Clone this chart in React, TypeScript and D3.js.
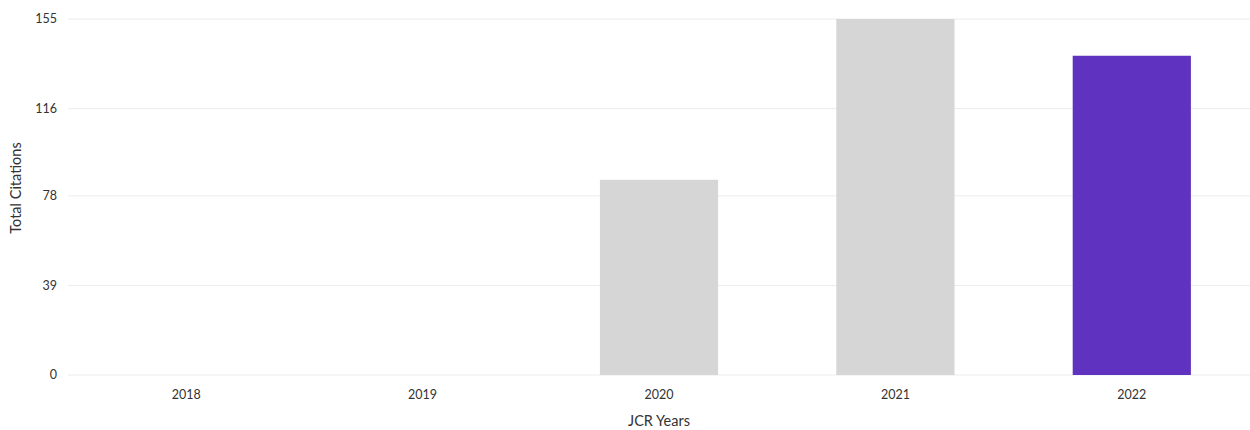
import React from "react";
import * as d3 from "d3";

const years = ["2018", "2019", "2020", "2021", "2022"];
const citations = [0, 0, 85, 155, 139];
const yTicks = [0, 39, 78, 116, 155];
const barColors = ["#d6d6d6", "#d6d6d6", "#d6d6d6", "#d6d6d6", "#5f33bf"];

const W = 1250;
const H = 430;
const margin = { left: 68, right: 0, top: 19, bottom: 55 };

export default function App() {
  const x = d3
    .scaleBand<string>()
    .domain(years)
    .range([margin.left, W - margin.right])
    .paddingInner(0.5)
    .paddingOuter(0.25);
  const y = d3
    .scaleLinear()
    .domain([0, 155])
    .range([H - margin.bottom, margin.top]);
  const font = "'Source Sans Pro', Lato, 'Open Sans', sans-serif";
  return (
    <>
      <style>{"body{margin:0}"}</style>
      <svg width={W} height={H} style={{ display: "block", fontFamily: font }}>
        {yTicks.map((t) => (
          <g key={t}>
            <line x1={margin.left} x2={W} y1={y(t)} y2={y(t)} stroke="#ececec" strokeWidth={1} />
            <text x={57} y={y(t)} dy="0.35em" textAnchor="end" fontSize={12.5} fill="#333">
              {t}
            </text>
          </g>
        ))}
        {years.map((yr, i) => (
          <rect
            key={yr}
            x={x(yr)!}
            width={x.bandwidth()}
            y={y(citations[i])}
            height={y(0) - y(citations[i])}
            fill={barColors[i]}
          />
        ))}
        {years.map((yr) => (
          <text
            key={yr}
            x={x(yr)! + x.bandwidth() / 2}
            y={399}
            textAnchor="middle"
            fontSize={12.5}
            fill="#333"
          >
            {yr}
          </text>
        ))}
        <text x={659} y={426} textAnchor="middle" fontSize={14.5} fill="#333">
          JCR Years
        </text>
        <text
          transform={`translate(21,${(y(0) + y(155)) / 2 - 9}) rotate(-90)`}
          textAnchor="middle"
          fontSize={14.5}
          fill="#333"
        >
          Total Citations
        </text>
      </svg>
    </>
  );
}
